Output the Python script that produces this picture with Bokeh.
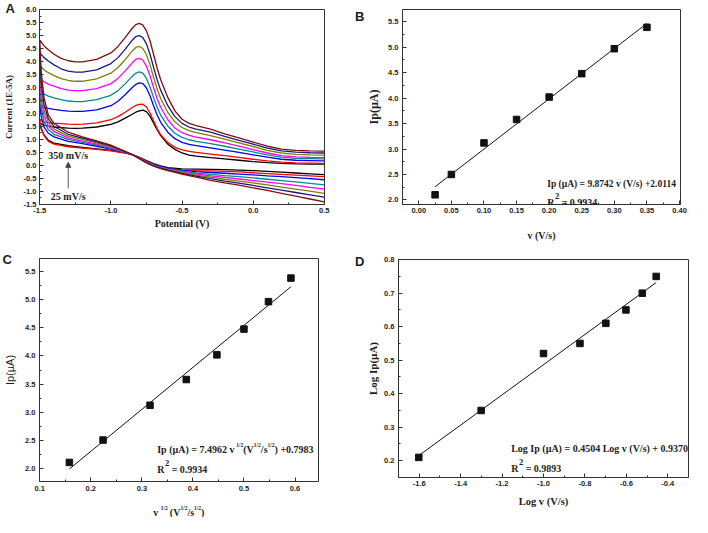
from bokeh.plotting import figure
from bokeh.layouts import row, column
from bokeh.models import (Label, Range1d, FixedTicker, PrintfTickFormatter, Arrow, NormalHead,
                          Title, LinearAxis)
from bokeh.embed import file_html
from bokeh.resources import INLINE

# ---------------- Panel A : cyclic voltammograms ----------------
E_up = [-1.5, -1.47, -1.44, -1.4, -1.35, -1.3, -1.25, -1.2, -1.1, -1.0, -0.95, -0.9,
        -0.85, -0.825, -0.8, -0.775, -0.75, -0.725, -0.7, -0.675, -0.65, -0.6, -0.55,
        -0.5, -0.45, -0.4, -0.3, -0.2, -0.1, 0.0, 0.1, 0.2, 0.3, 0.4, 0.5]
E_dn = [0.5, 0.4, 0.3, 0.2, 0.1, 0.0, -0.1, -0.2, -0.3, -0.4, -0.5, -0.6, -0.65, -0.7,
        -0.75, -0.8, -0.85, -0.9, -1.0, -1.1, -1.2, -1.3, -1.4, -1.44, -1.47, -1.49, -1.5]

scan_rates = ["25", "50", "100", "150", "200", "250", "300", "350"]

up_25 = [1.62, 1.55, 1.51, 1.48, 1.46, 1.44, 1.43, 1.44, 1.48, 1.58, 1.68, 1.82, 1.97, 2.05, 2.10, 2.13, 2.07, 1.90, 1.64, 1.38, 1.15, 0.82, 0.62, 0.48, 0.40, 0.36, 0.30, 0.25, 0.20, 0.15, 0.11, 0.08, 0.06, 0.05, 0.05]
up_50 = [1.75, 1.68, 1.65, 1.63, 1.61, 1.59, 1.58, 1.59, 1.64, 1.76, 1.88, 2.05, 2.23, 2.31, 2.35, 2.36, 2.25, 2.02, 1.72, 1.42, 1.18, 0.88, 0.70, 0.60, 0.54, 0.50, 0.44, 0.38, 0.31, 0.24, 0.18, 0.13, 0.10, 0.09, 0.08]
up_100 = [2.33, 2.25, 2.20, 2.16, 2.12, 2.09, 2.08, 2.08, 2.14, 2.30, 2.47, 2.72, 3.00, 3.12, 3.18, 3.15, 2.98, 2.68, 2.30, 1.94, 1.66, 1.28, 1.03, 0.89, 0.81, 0.76, 0.68, 0.59, 0.50, 0.41, 0.32, 0.24, 0.20, 0.19, 0.18]
up_150 = [2.87, 2.75, 2.67, 2.60, 2.53, 2.48, 2.46, 2.46, 2.53, 2.70, 2.88, 3.14, 3.43, 3.55, 3.60, 3.55, 3.35, 3.02, 2.62, 2.24, 1.94, 1.52, 1.24, 1.08, 0.99, 0.93, 0.84, 0.74, 0.63, 0.52, 0.41, 0.32, 0.27, 0.26, 0.25]
up_200 = [3.36, 3.22, 3.13, 3.05, 2.96, 2.90, 2.88, 2.88, 2.96, 3.15, 3.35, 3.64, 3.95, 4.08, 4.12, 4.05, 3.82, 3.45, 3.00, 2.58, 2.24, 1.76, 1.44, 1.26, 1.16, 1.09, 0.99, 0.87, 0.74, 0.61, 0.48, 0.38, 0.33, 0.31, 0.30]
up_250 = [3.84, 3.68, 3.57, 3.46, 3.34, 3.27, 3.24, 3.24, 3.33, 3.55, 3.77, 4.07, 4.40, 4.54, 4.58, 4.50, 4.26, 3.88, 3.40, 2.95, 2.58, 2.04, 1.68, 1.46, 1.34, 1.26, 1.15, 1.01, 0.87, 0.73, 0.58, 0.48, 0.43, 0.41, 0.40]
up_300 = [4.34, 4.15, 4.02, 3.87, 3.72, 3.63, 3.59, 3.59, 3.68, 3.92, 4.15, 4.47, 4.82, 4.96, 5.00, 4.92, 4.68, 4.28, 3.78, 3.30, 2.90, 2.30, 1.88, 1.62, 1.48, 1.40, 1.28, 1.12, 0.97, 0.82, 0.67, 0.56, 0.51, 0.49, 0.48]
up_350 = [4.82, 4.60, 4.45, 4.28, 4.12, 4.03, 3.99, 3.99, 4.08, 4.33, 4.58, 4.92, 5.28, 5.42, 5.47, 5.40, 5.18, 4.80, 4.28, 3.75, 3.30, 2.62, 2.10, 1.78, 1.62, 1.53, 1.40, 1.22, 1.06, 0.90, 0.74, 0.63, 0.58, 0.56, 0.55]

dn_25 = [-0.35, -0.32, -0.29, -0.26, -0.23, -0.20, -0.18, -0.16, -0.15, -0.14, -0.13, -0.08, -0.02, 0.07, 0.19, 0.31, 0.42, 0.49, 0.58, 0.64, 0.70, 0.76, 0.86, 0.97, 1.18, 1.40, 1.62]
dn_50 = [-0.43, -0.40, -0.37, -0.34, -0.31, -0.28, -0.25, -0.23, -0.21, -0.20, -0.18, -0.12, -0.05, 0.04, 0.17, 0.30, 0.42, 0.48, 0.56, 0.62, 0.67, 0.72, 0.82, 0.93, 1.15, 1.45, 1.75]
dn_100 = [-0.55, -0.51, -0.47, -0.43, -0.40, -0.36, -0.33, -0.30, -0.27, -0.24, -0.19, -0.11, -0.04, 0.04, 0.16, 0.29, 0.42, 0.49, 0.63, 0.74, 0.84, 0.93, 1.10, 1.24, 1.48, 1.88, 2.33]
dn_150 = [-0.75, -0.69, -0.63, -0.58, -0.53, -0.48, -0.43, -0.39, -0.34, -0.29, -0.22, -0.13, -0.06, 0.02, 0.14, 0.28, 0.42, 0.50, 0.66, 0.78, 0.89, 1.00, 1.20, 1.38, 1.68, 2.20, 2.87]
dn_200 = [-0.91, -0.84, -0.77, -0.70, -0.64, -0.58, -0.52, -0.46, -0.40, -0.33, -0.25, -0.15, -0.07, 0.01, 0.13, 0.28, 0.42, 0.51, 0.69, 0.82, 0.94, 1.06, 1.30, 1.52, 1.90, 2.55, 3.36]
dn_250 = [-1.07, -0.99, -0.91, -0.83, -0.75, -0.67, -0.60, -0.53, -0.45, -0.37, -0.27, -0.16, -0.08, 0.00, 0.12, 0.27, 0.42, 0.52, 0.72, 0.87, 1.00, 1.13, 1.40, 1.66, 2.12, 2.90, 3.84]
dn_300 = [-1.22, -1.13, -1.04, -0.95, -0.86, -0.77, -0.68, -0.60, -0.51, -0.41, -0.30, -0.18, -0.10, -0.02, 0.11, 0.27, 0.42, 0.53, 0.75, 0.91, 1.05, 1.20, 1.50, 1.80, 2.35, 3.20, 4.34]
dn_350 = [-1.40, -1.29, -1.18, -1.07, -0.96, -0.86, -0.76, -0.67, -0.57, -0.45, -0.33, -0.20, -0.12, -0.03, 0.10, 0.26, 0.42, 0.54, 0.78, 0.95, 1.10, 1.28, 1.62, 1.95, 2.60, 3.60, 4.82]

curve_colors = ["#000000", "#ff0000", "#0000ff", "#008b8b", "#ff00ff", "#808000", "#1a1a80", "#7f1010"]

ticks_A_x = [-1.5, -1.0, -0.5, 0.0, 0.5]
ticks_A_y = [-1.5, -1.0, -0.5, 0.0, 0.5, 1.0, 1.5, 2.0, 2.5, 3.0, 3.5, 4.0, 4.5, 5.0, 5.5, 6.0]

# ---------------- Panels B, C, D ----------------
v = [0.025, 0.05, 0.10, 0.15, 0.20, 0.25, 0.30, 0.35]
Ip = [2.10, 2.50, 3.12, 3.58, 4.02, 4.48, 4.97, 5.39]
sqrt_v = [0.158, 0.224, 0.316, 0.387, 0.447, 0.500, 0.548, 0.592]
log_v = [-1.602, -1.301, -1.000, -0.824, -0.699, -0.602, -0.523, -0.456]
log_Ip = [0.21, 0.35, 0.52, 0.55, 0.61, 0.65, 0.70, 0.75]

fit_B = (9.8742, 2.0114)
fit_C = (7.4962, 0.7983)
fit_D = (0.4504, 0.9370)

ticks_B_x = [0.00, 0.05, 0.10, 0.15, 0.20, 0.25, 0.30, 0.35, 0.40]
ticks_B_y = [2.0, 2.5, 3.0, 3.5, 4.0, 4.5, 5.0, 5.5]
ticks_C_x = [0.1, 0.2, 0.3, 0.4, 0.5, 0.6]
ticks_C_y = [2.0, 2.5, 3.0, 3.5, 4.0, 4.5, 5.0, 5.5]
ticks_D_x = [-1.6, -1.4, -1.2, -1.0, -0.8, -0.6, -0.4]
ticks_D_y = [0.2, 0.3, 0.4, 0.5, 0.6, 0.7, 0.8]

INK = "#333333"
TXT = "#1e1e1e"
SERIF = "Liberation Serif"
SANS = "Liberation Sans"

# Times-Bold advance widths (per 1000 em) for composing super-scripted texts
TB = {" ": 250, "(": 333, ")": 333, "+": 570, "=": 570, ".": 250, "/": 278, "I": 389,
      "p": 556, "µ": 556, "A": 722, "V": 722, "s": 389, "v": 500, "R": 722, "L": 667,
      "o": 500, "g": 500}


def tw(t, size):
    return sum(TB.get(c, 500) for c in t) * size / 1000.0


def minor_of(ticks):
    return [(a + b) / 2 for a, b in zip(ticks[:-1], ticks[1:])]


def make_fig(w, h, xr, yr, bl, br, bt, bb, xt, yt, xfmt, yfmt):
    p = figure(width=w, height=h, x_range=Range1d(*xr), y_range=Range1d(*yr),
               output_backend="svg", toolbar_location=None, title=None,
               min_border_left=bl, min_border_right=br, min_border_top=bt, min_border_bottom=bb)
    p.grid.visible = False
    p.outline_line_color = INK
    p.outline_line_width = 1
    p.background_fill_color = "white"
    p.border_fill_color = "white"
    p.xaxis.ticker = FixedTicker(ticks=xt, minor_ticks=minor_of(xt))
    p.yaxis.ticker = FixedTicker(ticks=yt, minor_ticks=minor_of(yt))
    p.xaxis.formatter = PrintfTickFormatter(format=xfmt)
    p.yaxis.formatter = PrintfTickFormatter(format=yfmt)
    for ax in (p.xaxis[0], p.yaxis[0]):
        ax.axis_line_color = INK
        ax.major_tick_in = 4
        ax.major_tick_out = 0
        ax.minor_tick_in = 2
        ax.minor_tick_out = 0
        ax.major_tick_line_color = INK
        ax.minor_tick_line_color = INK
        ax.major_label_text_font = SANS
        ax.major_label_text_font_style = "bold"
        ax.major_label_text_font_size = "7.5px"
        ax.major_label_text_color = TXT
        ax.axis_label_text_font = SERIF
        ax.axis_label_text_font_style = "bold"
        ax.axis_label_text_font_size = "10px"
        ax.axis_label_text_color = TXT
    return p


def add_text(p, text, x, y, size, font=SERIF, style="bold", xo=0, yo=0,
             align="left", baseline="alphabetic"):
    p.add_layout(Label(x=x, y=y, x_offset=xo, y_offset=yo,
                       text=text, text_font=font, text_font_style=style,
                       text_font_size=f"{size}px", text_align=align,
                       text_baseline=baseline, text_color=TXT))


def add_rich(p, pieces, x, y, center=False):
    total = sum(tw(t, s) + g for t, s, r, g in pieces)
    off = -total / 2 if center else 0
    for t, s, r, g in pieces:
        off += g
        add_text(p, t, x, y, s, xo=off, yo=r)
        off += tw(t, s)


def letter_title(p, ch, offset, standoff):
    p.add_layout(Title(text=ch, align="left", offset=offset, standoff=standoff,
                       vertical_align="bottom", text_font=SANS, text_font_style="bold",
                       text_font_size="13px", text_color=TXT), "above")


def letter_axis(p, ch, yval):
    ax = LinearAxis(ticker=FixedTicker(ticks=[yval]), major_label_overrides={yval: ch},
                    axis_line_color=None, major_tick_line_color=None,
                    minor_tick_line_color=None, major_tick_in=0, major_tick_out=0,
                    major_label_standoff=0, major_label_text_font=SANS,
                    major_label_text_font_style="bold", major_label_text_font_size="13px",
                    major_label_text_color=TXT)
    p.add_layout(ax, "left")


# ---------- A ----------
pA = make_fig(352, 250, (-1.502, 0.502), (-1.502, 6.002), 36, 28, 9, 38,
              ticks_A_x, ticks_A_y, "%.1f", "%.1f")
pA.xaxis.axis_label = "Potential (V)"
pA.yaxis.axis_label = "Current (1E-5A)"
pA.yaxis.axis_label_text_font_size = "9px"
pA.xaxis.major_label_standoff = 3
pA.yaxis.major_label_standoff = 3
pA.xaxis.axis_label_standoff = 2
pA.yaxis.axis_label_standoff = 7
ups = [up_25, up_50, up_100, up_150, up_200, up_250, up_300, up_350]
dns = [dn_25, dn_50, dn_100, dn_150, dn_200, dn_250, dn_300, dn_350]
for up, dn, col in zip(ups, dns, curve_colors):
    pA.line(E_up, up, line_color=col, line_width=1.3)
    pA.line(E_dn, dn, line_color=col, line_width=1.3)
add_text(pA, scan_rates[-1] + " mV/s", -1.30, 0.39, 10, align="center", baseline="middle")
add_text(pA, scan_rates[0] + " mV/s", -1.30, -1.19, 10, align="center", baseline="middle")
pA.add_layout(Arrow(end=NormalHead(size=5, fill_color="#444444", line_color="#444444"),
                    x_start=-1.30, y_start=-0.88, x_end=-1.30, y_end=0.12,
                    line_color="#555555", line_width=1))
letter_title(pA, "A", -34, -12.5)

# ---------- B ----------
pB = make_fig(340, 250, (-0.025, 0.4015), (1.91, 5.74), 44, 12, 4, 46,
              ticks_B_x, ticks_B_y, "%.2f", "%.1f")
pB.xaxis.axis_label = "v (V/s)"
pB.yaxis.axis_label = "Ip(µA)"
pB.yaxis.axis_label_text_font_size = "12px"
pB.xaxis.major_label_standoff = 3
pB.yaxis.major_label_standoff = 4
pB.xaxis.axis_label_standoff = 14
pB.yaxis.axis_label_standoff = 4
fxB = [v[0], v[-1]]
pB.line(fxB, [fit_B[0] * x + fit_B[1] for x in fxB], line_color="#111111", line_width=1)
pB.scatter(v, Ip, marker="square", size=6.5, fill_color="#111111", line_color="#111111")
add_text(pB, "Ip (µA) = 9.8742 v (V/s) +2.0114", 0.197, 2.31, 9.5)
add_rich(pB, [("R", 10, 0, 0), ("2", 8.5, 6, 0.5), ("= 0.9934", 10, 0, 2.5)], 0.197, 1.95)
letter_axis(pB, "B", 5.6)

# ---------- C ----------
pC = make_fig(352, 249, (0.0995, 0.646), (1.76, 5.74), 39, 34, 8, 18,
              ticks_C_x, ticks_C_y, "%.1f", "%.1f")
pC.yaxis.axis_label = "Ip(µA)"
pC.yaxis.axis_label_text_font = SANS
pC.yaxis.axis_label_text_font_style = "normal"
pC.yaxis.axis_label_text_font_size = "11px"
pC.xaxis.major_label_standoff = 4
pC.yaxis.major_label_standoff = 4
pC.yaxis.axis_label_standoff = 6
fxC = [sqrt_v[0], sqrt_v[-1]]
pC.line(fxC, [fit_C[0] * x + fit_C[1] for x in fxC], line_color="#111111", line_width=1)
pC.scatter(sqrt_v, Ip, marker="square", size=6.5, fill_color="#111111", line_color="#111111")
add_rich(pC, [("Ip (µA) = 7.4962 v", 10, 0, 0), ("1/2", 5.5, 4.5, 2), ("(V", 10, 0, 0),
              ("1/2", 5.5, 4.5, 0), ("/s", 10, 0, 0), ("1/2", 5.5, 4.5, 0),
              (") +0.7983", 10, 0, 0)], 0.33, 2.34)
add_rich(pC, [("R", 10, 0, 0), ("2", 8.5, 6, 0.5), ("= 0.9934", 10, 0, 2.5)], 0.33, 1.98)
letter_title(pC, "C", -37, -16)

# strip under C holding the composed x-axis title
sC = figure(width=352, height=18, x_range=pC.x_range, y_range=Range1d(0, 18),
            output_backend="svg", toolbar_location=None, title=None,
            x_axis_type=None, y_axis_type=None,
            min_border_left=39, min_border_right=34, min_border_top=0, min_border_bottom=0)
sC.grid.visible = False
sC.outline_line_color = None
add_rich(sC, [("v", 10, 0, 0), ("1/2", 5.5, 4.5, 2.5), ("(V", 10, 0, 2), ("1/2", 5.5, 4.5, 0),
              ("/s", 10, 0, 0), ("1/2", 5.5, 4.5, 0), (")", 10, 0, 0)],
         0.3725, 5, center=True)

# ---------- D ----------
pD = make_fig(340, 267, (-1.70, -0.30), (0.15, 0.8005), 41, 4, 9, 40,
              ticks_D_x, ticks_D_y, "%.1f", "%.1f")
pD.xaxis.axis_label = "Log v (V/s)"
pD.yaxis.axis_label = "Log Ip(µA)"
pD.xaxis.axis_label_text_font_size = "10.5px"
pD.yaxis.axis_label_text_font_size = "11px"
pD.xaxis.major_label_standoff = 3
pD.yaxis.major_label_standoff = 4
pD.xaxis.axis_label_standoff = 7
pD.yaxis.axis_label_standoff = 2
fxD = [-1.60, log_v[-1]]
pD.line(fxD, [fit_D[0] * x + fit_D[1] for x in fxD], line_color="#111111", line_width=1)
pD.scatter(log_v, log_Ip, marker="square", size=6.5, fill_color="#111111", line_color="#111111")
add_text(pD, "Log Ip (µA) = 0.4504 Log v (V/s) + 0.9370", -1.156, 0.236, 10)
add_rich(pD, [("R", 10, 0, 0), ("2", 8.5, 6, 0.5), ("= 0.9893", 10, 0, 2.5)], -1.156, 0.178)
letter_axis(pD, "D", 0.796)

layout = column(row(pA, pB), row(column(pC, sC), pD))
open("out.html", "w").write(file_html(layout, INLINE))
